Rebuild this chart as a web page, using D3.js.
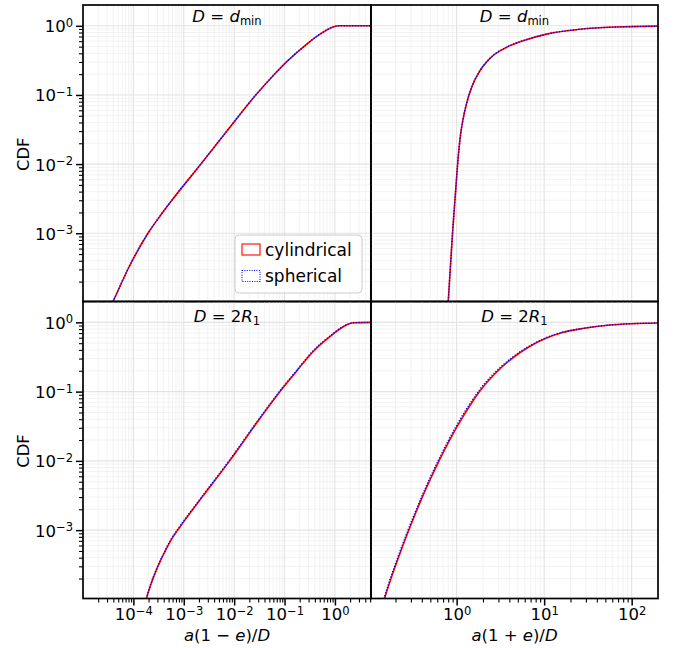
<!DOCTYPE html>
<html><head><meta charset="utf-8">
<script src="https://cdn.jsdelivr.net/npm/d3@7"></script>
<style>
body{margin:0;background:#fff}
text{font-family:"DejaVu Sans",sans-serif;fill:#000}
</style>
</head><body>
<svg id="c" width="676" height="648"></svg>
<script>
// ---------- data ----------
const seriesNames = ["cylindrical", "spherical"];
const panelTitles = [["D", "d", "min"], ["D", "d", "min"], ["D", "2R", "1"], ["D", "2R", "1"]];
const xLabelLeft = "a(1 − e)/D";
const xLabelRight = "a(1 + e)/D";
const yLabel = "CDF";

// top-left: D = d_min, x = a(1-e)/D
const tlX   = [3.311e-5, 3.936e-5, 8.433e-5, 1.950e-4, 3.548e-4, 6.310e-4, 2.188e-3, 7.586e-3, 0.02692, 0.05623, 0.1164, 0.2512, 0.5058, 1.1695, 5.2];
const tlCyl = [7.94e-5, 1.03e-4, 3.388e-4, 1.0e-3, 1.862e-3, 3.236e-3, 0.01, 0.03162, 0.1, 0.182, 0.3133, 0.5129, 0.7586, 1.0, 1.0];
const tlSph = [7.96e-5, 1.032e-4, 3.40e-4, 1.003e-3, 1.867e-3, 3.245e-3, 0.01003, 0.0317, 0.1003, 0.1825, 0.3138, 0.5133, 0.7589, 1.0, 1.0];

// top-right: D = d_min, x = a(1+e)/D
const trX   = [0.7907, 0.8017, 0.8974, 0.9616, 1.0257, 1.1117, 1.1722, 1.3002, 1.4825, 1.8450, 2.4044, 3.7239, 5.7677, 10.69, 25.64, 63.10, 200];
const trCyl = [7.94e-5, 1.03e-4, 1.0e-3, 3.31e-3, 0.01, 0.02754, 0.04169, 0.07586, 0.1288, 0.2239, 0.3388, 0.4898, 0.6095, 0.7586, 0.8913, 0.9594, 0.9886];
const trSph = [7.96e-5, 1.033e-4, 1.003e-3, 3.32e-3, 0.01003, 0.02762, 0.04180, 0.07605, 0.1291, 0.2243, 0.3392, 0.4902, 0.6098, 0.7588, 0.8914, 0.9594, 0.9886];

// bottom-left: D = 2R_1, x = a(1-e)/D
const blX   = [1.622e-4, 1.811e-4, 2.188e-4, 2.884e-4, 4.169e-4, 5.623e-4, 7.586e-4, 2.512e-3, 8.128e-3, 0.02512, 0.08128, 0.1734, 0.3707, 0.7962, 1.462, 2.312, 5.2];
const blCyl = [7.59e-5, 1.023e-4, 1.585e-4, 2.692e-4, 4.786e-4, 7.244e-4, 1.0e-3, 3.236e-3, 0.01, 0.03162, 0.1, 0.1968, 0.3802, 0.6223, 0.865, 0.9863, 1.0];
const blSph = [7.8e-5, 1.052e-4, 1.63e-4, 2.77e-4, 4.92e-4, 7.45e-4, 1.028e-3, 3.33e-3, 0.01028, 0.0325, 0.1028, 0.2022, 0.390, 0.633, 0.871, 0.9866, 1.0];

// bottom-right: D = 2R_1, x = a(1+e)/D
const brX   = [0.1413, 0.150, 0.2223, 0.3148, 0.4477, 0.6353, 1.0, 1.521, 1.816, 2.812, 4.355, 6.745, 10.45, 16.18, 25.06, 39.81, 56.23, 100, 200];
const brCyl = [7.94e-5, 1.028e-4, 4.416e-4, 1.390e-3, 3.999e-3, 0.01028, 0.03055, 0.07211, 0.09931, 0.1873, 0.3055, 0.4446, 0.5888, 0.7145, 0.798, 0.871, 0.9141, 0.955, 0.9795];
const brSph = [8.5e-5, 1.10e-4, 4.72e-4, 1.485e-3, 4.27e-3, 0.01098, 0.0326, 0.0765, 0.1050, 0.1955, 0.315, 0.454, 0.597, 0.7205, 0.8025, 0.874, 0.9155, 0.9555, 0.9797];

const xDomainLeft = [1e-5, 5.2];
const xDomainRight = [0.105, 200];
const yDomain = [1.03e-4, 2.0];
const xTicksLeft = [1e-4, 1e-3, 1e-2, 1e-1, 1];
const xTickExpLeft = ["−4", "−3", "−2", "−1", "0"];
const xTicksRight = [1, 10, 100];
const xTickExpRight = ["0", "1", "2"];
const yTicks = [1e-3, 1e-2, 1e-1, 1];
const yTickExp = ["−3", "−2", "−1", "0"];
const colors = ["#ff0000", "#0000ff"];

// ---------- layout ----------
const svg = d3.select("#c");
const L = 83, M = 371, R = 658, T = 5, H = 301.5, B = 598.5;
const FS = 16.5;

const panels = [
  {x0: L, x1: M, y0: T, y1: H, xd: xDomainLeft, xs: tlX, cyl: tlCyl, sph: tlSph, title: panelTitles[0], tb: 21.7, left: true, bottom: false, xt: xTicksLeft, xe: xTickExpLeft},
  {x0: M, x1: R, y0: T, y1: H, xd: xDomainRight, xs: trX, cyl: trCyl, sph: trSph, title: panelTitles[1], tb: 21.7, left: false, bottom: false, xt: xTicksRight, xe: xTickExpRight},
  {x0: L, x1: M, y0: H, y1: B, xd: xDomainLeft, xs: blX, cyl: blCyl, sph: blSph, title: panelTitles[2], tb: 321.5, left: true, bottom: true, xt: xTicksLeft, xe: xTickExpLeft, xl: xLabelLeft},
  {x0: M, x1: R, y0: H, y1: B, xd: xDomainRight, xs: brX, cyl: brCyl, sph: brSph, title: panelTitles[3], tb: 321.5, left: false, bottom: true, xt: xTicksRight, xe: xTickExpRight, xl: xLabelRight}
];

function addPow(textSel, exp) {
  textSel.append("tspan").text("10");
  textSel.append("tspan").attr("dy", "-0.48em").attr("font-size", "0.7em").text(exp);
}

panels.forEach((p, i) => {
  const x = d3.scaleLog().domain(p.xd).range([p.x0, p.x1]);
  const y = d3.scaleLog().domain(yDomain).range([p.y1, p.y0]);
  const g = svg.append("g");
  const cid = "clip" + i;
  svg.append("clipPath").attr("id", cid).append("rect")
    .attr("x", p.x0).attr("y", p.y0).attr("width", p.x1 - p.x0).attr("height", p.y1 - p.y0);

  const xAll = x.ticks(40).filter(v => v > p.xd[0] * 1.001 && v < p.xd[1]);
  const yAll = y.ticks(40).filter(v => v > yDomain[0] && v < yDomain[1]);
  const isMajor = v => Math.abs(Math.log10(v) - Math.round(Math.log10(v))) < 1e-6;

  // grid (minor then major)
  const grid = g.append("g").attr("clip-path", `url(#${cid})`);
  grid.selectAll(".gxm").data(xAll.filter(v => !isMajor(v))).join("line")
    .attr("x1", d => x(d)).attr("x2", d => x(d)).attr("y1", p.y0).attr("y2", p.y1)
    .attr("stroke", "#f1f1f1").attr("stroke-width", 0.9);
  grid.selectAll(".gym").data(yAll.filter(v => !isMajor(v))).join("line")
    .attr("y1", d => y(d)).attr("y2", d => y(d)).attr("x1", p.x0).attr("x2", p.x1)
    .attr("stroke", "#f1f1f1").attr("stroke-width", 0.9);
  grid.selectAll(".gxM").data(xAll.filter(isMajor)).join("line")
    .attr("x1", d => x(d)).attr("x2", d => x(d)).attr("y1", p.y0).attr("y2", p.y1)
    .attr("stroke", "#e3e3e3").attr("stroke-width", 1.1);
  grid.selectAll(".gyM").data(yAll.filter(isMajor)).join("line")
    .attr("y1", d => y(d)).attr("y2", d => y(d)).attr("x1", p.x0).attr("x2", p.x1)
    .attr("stroke", "#e3e3e3").attr("stroke-width", 1.1);

  // curves
  const line = d3.line().x(d => x(d[0])).y(d => y(d[1])).curve(d3.curveMonotoneX);
  const cg = g.append("g").attr("clip-path", `url(#${cid})`);
  cg.append("path").datum(p.xs.map((v, k) => [v, p.cyl[k]])).attr("d", line)
    .attr("fill", "none").attr("stroke", colors[0]).attr("stroke-width", 1.6);
  cg.append("path").datum(p.xs.map((v, k) => [v, p.sph[k]])).attr("d", line)
    .attr("fill", "none").attr("stroke", colors[1]).attr("stroke-width", 1.4)
    .attr("stroke-dasharray", "1.2,1.6");

  // axes
  if (p.bottom) {
    const ax = g.append("g").attr("transform", `translate(0,${p.y1})`);
    ax.call(d3.axisBottom(x).tickValues(xAll.filter(v => !isMajor(v))).tickSize(4).tickFormat(() => ""));
    ax.selectAll("line").attr("stroke-width", 1.1);
    const axM = g.append("g").attr("transform", `translate(0,${p.y1})`);
    axM.call(d3.axisBottom(x).tickValues(p.xt).tickSize(7).tickPadding(3).tickFormat(() => ""));
    axM.selectAll("line").attr("stroke-width", 1.5);
    axM.selectAll(".tick text").attr("font-size", FS).attr("font-family", "DejaVu Sans")
      .each(function (d, k) { addPow(d3.select(this), p.xe[k]); });
    [ax, axM].forEach(a => a.select(".domain").remove());
    // x label
    const parts = p.xl === xLabelLeft
      ? [["a", true], ["(1 − ", false], ["e", true], [")/", false], ["D", true]]
      : [["a", true], ["(1 + ", false], ["e", true], [")/", false], ["D", true]];
    const t = svg.append("text").attr("x", (p.x0 + p.x1) / 2).attr("y", 641)
      .attr("text-anchor", "middle").attr("font-size", FS);
    parts.forEach(([s, it]) => t.append("tspan").attr("font-style", it ? "italic" : "normal").text(s));
  }
  if (p.left) {
    const ay = g.append("g").attr("transform", `translate(${p.x0},0)`);
    ay.call(d3.axisLeft(y).tickValues(yAll.filter(v => !isMajor(v))).tickSize(4).tickFormat(() => ""));
    ay.selectAll("line").attr("stroke-width", 1.1);
    const ayM = g.append("g").attr("transform", `translate(${p.x0},0)`);
    ayM.call(d3.axisLeft(y).tickValues(yTicks).tickSize(7).tickPadding(3).tickFormat(() => ""));
    ayM.selectAll("line").attr("stroke-width", 1.5);
    ayM.selectAll(".tick text").attr("font-size", FS).attr("font-family", "DejaVu Sans").attr("dy", "0.36em")
      .each(function (d, k) { addPow(d3.select(this), yTickExp[k]); });
    [ay, ayM].forEach(a => a.select(".domain").remove());
    svg.append("text").attr("transform", `translate(28.5,${(p.y0 + p.y1) / 2 + 1}) rotate(-90)`)
      .attr("text-anchor", "middle").attr("font-size", FS).text(yLabel);
  }

  // title
  const tt = svg.append("text").attr("x", (p.x0 + p.x1) / 2).attr("y", p.tb)
    .attr("text-anchor", "middle").attr("font-size", FS);
  tt.append("tspan").attr("font-style", "italic").text(p.title[0]);
  tt.append("tspan").text(" = ");
  if (p.title[1] === "d") {
    tt.append("tspan").attr("font-style", "italic").text("d");
  } else {
    tt.append("tspan").text("2");
    tt.append("tspan").attr("font-style", "italic").text("R");
  }
  tt.append("tspan").attr("font-size", "0.7em").attr("dy", "0.3em").text(p.title[2]);

  // frame
  svg.append("rect").attr("x", p.x0).attr("y", p.y0).attr("width", p.x1 - p.x0).attr("height", p.y1 - p.y0)
    .attr("fill", "none").attr("stroke", "#000").attr("stroke-width", 1.7);
});

// legend
const lg = svg.append("g");
lg.append("rect").attr("x", 235).attr("y", 235).attr("width", 127).attr("height", 58).attr("rx", 4)
  .attr("fill", "#fff").attr("fill-opacity", 0.8).attr("stroke", "#cccccc").attr("stroke-width", 1);
seriesNames.forEach((n, k) => {
  const yy = 244 + k * 26.5;
  lg.append("rect").attr("x", 242).attr("y", yy).attr("width", 18).attr("height", 11)
    .attr("fill", "none").attr("stroke", colors[k]).attr("stroke-width", 1.1)
    .attr("stroke-dasharray", k === 1 ? "1,1.4" : null);
  lg.append("text").attr("x", 265).attr("y", yy + 11.5).attr("font-size", 17).text(n);
});
</script>
</body></html>
